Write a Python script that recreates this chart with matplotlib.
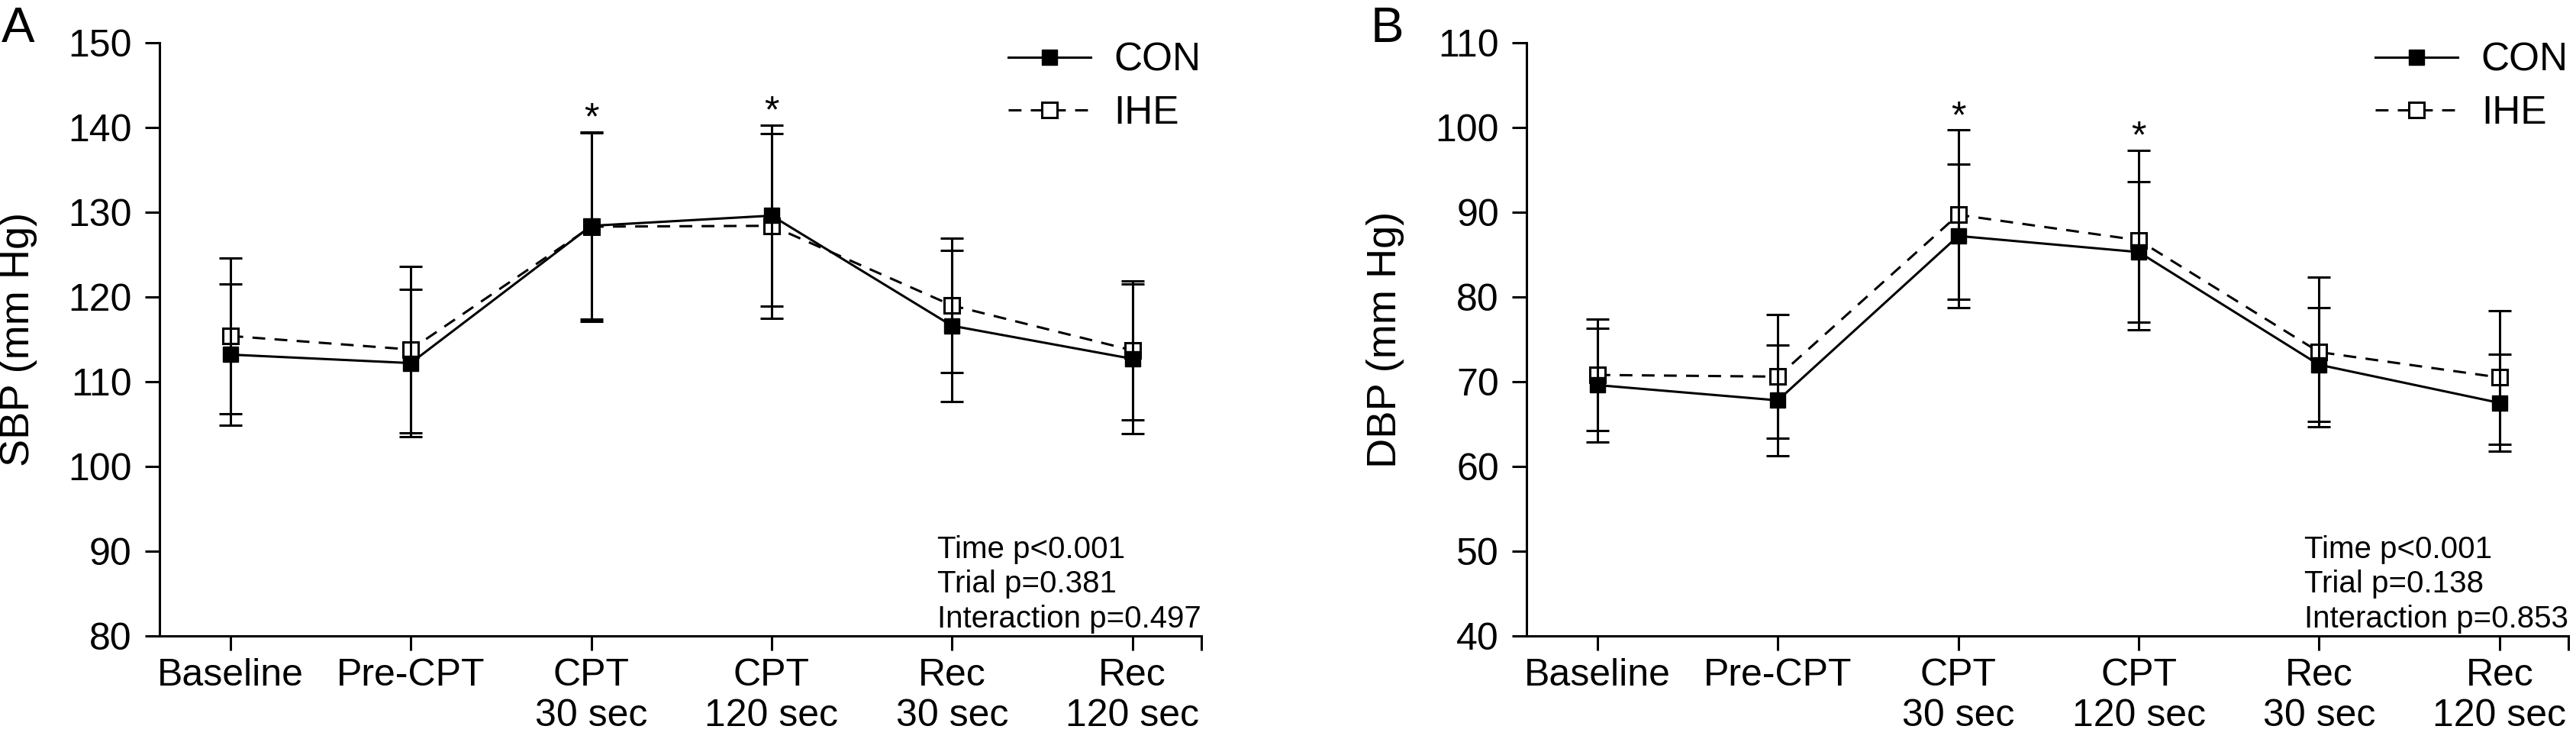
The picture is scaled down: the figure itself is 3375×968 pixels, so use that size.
import matplotlib
matplotlib.use("Agg")
import matplotlib.pyplot as plt
from matplotlib.lines import Line2D

plt.rcParams["font.family"] = ["Liberation Sans", "DejaVu Sans"]

# ---- data (mean ± SD) ----
categories = ["Baseline", "Pre-CPT", "CPT\n30 sec", "CPT\n120 sec", "Rec\n30 sec", "Rec\n120 sec"]

sbp_con = [113.2, 112.2, 128.4, 129.6, 116.6, 112.7]
sbp_con_sd = [8.3, 8.7, 11.0, 10.7, 8.9, 8.8]
sbp_ihe = [115.4, 113.8, 128.3, 128.4, 119.0, 113.7]
sbp_ihe_sd = [9.2, 9.8, 11.2, 10.9, 7.9, 8.2]

dbp_con = [69.6, 67.8, 87.2, 85.3, 72.0, 67.5]
dbp_con_sd = [6.7, 6.5, 8.5, 8.3, 6.7, 5.7]
dbp_ihe = [70.8, 70.6, 89.7, 86.7, 73.5, 70.5]
dbp_ihe_sd = [6.6, 7.3, 10.0, 10.6, 8.8, 7.9]

star_idx = [2, 3]                      # time points marked with *

sbp_stats = "Time p<0.001\nTrial p=0.381\nInteraction p=0.497"
dbp_stats = "Time p<0.001\nTrial p=0.138\nInteraction p=0.853"

LW = 2.2
MS = 15
XLIM = (-0.393, 5.381)

con_style = dict(color="black", lw=LW, linestyle="-", marker="s", markersize=MS,
                 markerfacecolor="black", markeredgecolor="black")
ihe_style = dict(color="black", lw=LW, dashes=(5.5, 4), marker="s", markersize=MS,
                 markerfacecolor="white", markeredgecolor="black", markeredgewidth=2.2)


def draw_panel(ax, con, con_sd, ihe, ihe_sd, ylim, yticks, ylabel, stats):
    x = list(range(len(categories)))
    err_kw = dict(elinewidth=LW, capsize=11, capthick=LW, ecolor="black")
    ax.errorbar(x, ihe, yerr=ihe_sd, zorder=3, **ihe_style, **err_kw)
    ax.errorbar(x, con, yerr=con_sd, zorder=4, **con_style, **err_kw)

    # significance stars just above the highest cap
    for i in star_idx:
        top = max(con[i] + con_sd[i], ihe[i] + ihe_sd[i])
        ax.text(i, top - 0.6, "*", ha="center", va="bottom", fontsize=36)

    ax.set_xlim(*XLIM)
    ax.set_ylim(*ylim)
    ax.set_yticks(yticks)
    ax.set_xticks(x + [XLIM[1]])
    ax.set_xticklabels(categories + [""])
    for lab in ax.get_xticklabels():
        lab.set_linespacing(1.2)
    for s in ("top", "right"):
        ax.spines[s].set_visible(False)
    for s in ("left", "bottom"):
        ax.spines[s].set_linewidth(LW)
    ax.tick_params(direction="out", length=14, width=LW, labelsize=36, pad=12)
    ax.tick_params(axis="x", pad=7)
    ax.set_ylabel(ylabel, fontsize=39)
    ax.yaxis.set_label_coords(-0.117, 0.5)

    handles = [Line2D([], [], **con_style), Line2D([], [], **ihe_style)]
    ax.legend(handles, ["CON", "IHE"], loc="upper right", bbox_to_anchor=(1.0, 1.002),
              frameon=False, fontsize=37, borderpad=0, borderaxespad=0,
              handlelength=2.1, handletextpad=0.6, labelspacing=0.4)

    ax.text(1.0, 0.004, stats, transform=ax.transAxes, ha="right", va="bottom",
            multialignment="left", fontsize=29, linespacing=1.25)


fig = plt.figure(figsize=(33.75, 9.68), dpi=100)
ax_a = fig.add_axes([0.0619, 0.1395, 0.4044, 0.8026])
ax_b = fig.add_axes([0.5926, 0.1395, 0.4044, 0.8026])

draw_panel(ax_a, sbp_con, sbp_con_sd, sbp_ihe, sbp_ihe_sd,
           (80, 150), range(80, 151, 10), "SBP (mm Hg)", sbp_stats)
draw_panel(ax_b, dbp_con, dbp_con_sd, dbp_ihe, dbp_ihe_sd,
           (40, 110), range(40, 111, 10), "DBP (mm Hg)", dbp_stats)

fig.text(0.0006, 0.943, "A", fontsize=47, ha="left", va="baseline")
fig.text(1796 / 3375, 0.943, "B", fontsize=47, ha="left", va="baseline")

fig.savefig("out.png", dpi=100)
